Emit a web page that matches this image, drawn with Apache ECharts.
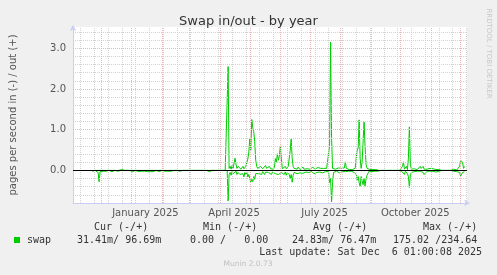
<!DOCTYPE html>
<html><head><meta charset="utf-8">
<script src="https://cdn.jsdelivr.net/npm/echarts@6/dist/echarts.min.js"></script>
<style>html,body{margin:0;padding:0;background:#f0f0f0}#c{width:497px;height:275px}</style>
</head><body><div id="c"></div>
<script>
const DAY = 86400000;
const title = 'Swap in/out - by year';
const yAxisName = 'pages per second in (-) / out (+)';
const seriesName = 'swap';
// daily values, first entry = dataStart
const dataStart = '2024-11-22';
const swapOut = [
 0,0,0,0,0,0,0,0,0,0,
 0,0,0,0,0,0,0,0,0,0,
 0,0,0,0,0,0,0,0,0.03,0.04,
 0.02,0,0,0,0,0,0,0,0,0,
 0,0,0,0,0,0,0,0,0,0,
 0,0,0,0,0,0,0,0,0,0,
 0,0,0,0,0,0,0,0,0,0,
 0,0,0,0,0,0,0,0,0,0,
 0,0,0,0,0,0,0,0,0,0,
 0,0,0,0,0,0,0,0,0,0,
 0,0,0,0,0,0,0,0,0,0,
 0,0,0,0,0,0,0,0,0,0,
 0,0,0,0,0,0,0,0,0,0,
 0,0,0,0,0,0,0,0,2.55,0.05,
 0.1,0.03,0.12,0.05,0.08,0.3,0.15,0.05,0.1,0.06,
 0.08,0.03,0.05,0.1,0.04,0.08,0.1,0.2,0.28,0.45,
 0.78,0.5,1.25,1.05,0.95,0.7,0.25,0.1,0.05,0.08,
 0.03,0.1,0.06,0.04,0.02,0.08,0.12,0.05,0.03,0.06,
 0.1,0.04,0.07,0.05,0.03,0.08,0.29,0.2,0.41,0.25,
 0.35,0.6,0.3,0.04,0.05,0.08,0.1,0.04,0.06,0.1,
 0.09,0.49,0.77,0.3,0.1,0.05,0.04,0.06,0.03,0.08,
 0.05,0.02,0.06,0.04,0.08,0.03,0.05,0.07,0.04,0.02,
 0.05,0.03,0.06,0.04,0.08,0.05,0.03,0.06,0.04,0.07,
 0.05,0.03,0.05,0.06,0.04,0.05,0.06,0.04,0.05,0.07,
 0.09,0.6,3.15,0.8,0.05,0.03,0.04,0.03,0.05,0.02,
 0.06,0.03,0.04,0.05,0.02,0.04,0.06,0.21,0.05,0.03,
 0.04,0.02,0.03,0.05,0.02,0.04,0.03,0.05,0.3,0.5,
 0.55,1.24,0.3,0.05,0.2,0.7,1.19,0.6,0.15,0.05,
 0.03,0.04,0.02,0.05,0.03,0.02,0.04,0.03,0.02,0.03,
 0.06,0,0,0,0,0,0,0,0,0,
 0,0,0,0,0,0,0,0,0,0,
 0,0,0,0,0.03,0.1,0.21,0.03,0.05,0.1,
 0.02,0.3,1.07,0.15,0.03,0.02,0.02,0.04,0.02,0.03,
 0.02,0.05,0.03,0.1,0.05,0.08,0.1,0.03,0.02,0.05,
 0.03,0.04,0.02,0.05,0.03,0.02,0.04,0.03,0.05,0.02,
 0.03,0.04,0.02,0.05,0.03,0,0,0,0,0,
 0,0,0,0,0,0,0,0.03,0.03,0.02,
 0.01,0.02,0.03,0.1,0.25,0.25,0.2,0.05,0.0969
];
const swapIn = [
 -0.02,-0.03,-0.02,0,-0.02,-0.03,-0.05,-0.28,-0.03,-0.02,
 -0.03,-0.02,-0.03,0,-0.02,-0.03,-0.02,0,0,-0.02,
 -0.03,-0.02,0,0,-0.02,-0.03,-0.02,0,0,0,
 0,0,0,0,0,0,0,0,0,0,
 -0.02,-0.03,-0.02,-0.03,0,-0.02,-0.02,-0.03,-0.02,0,
 -0.02,-0.03,-0.02,-0.02,0,0,-0.03,-0.02,-0.02,-0.03,
 0,-0.02,-0.03,-0.02,-0.02,0,0,-0.02,-0.03,-0.02,
 -0.02,0,0,-0.03,-0.02,-0.02,-0.03,-0.02,0,0,
 -0.02,-0.03,-0.02,0,-0.02,-0.03,0,0,0,-0.02,
 -0.02,-0.03,0,0,0,0,0,0,0,0,
 0,0,0,0,0,0,0,0,0,0,
 0,0,0,0,0,0,0,0,-0.02,-0.03,
 -0.02,-0.02,0,0,0,0,0,0,0,0,
 0,0,0,0,0,0,0,0,-0.75,-0.1,
 -0.05,-0.12,-0.03,-0.08,-0.04,-0.1,-0.02,-0.1,-0.05,-0.03,
 -0.1,-0.06,-0.12,-0.08,-0.16,-0.05,-0.1,-0.05,-0.16,-0.1,
 -0.2,-0.29,-0.22,-0.28,-0.15,-0.22,-0.08,-0.05,-0.04,-0.08,
 -0.12,-0.05,-0.1,-0.03,-0.06,-0.1,-0.04,-0.02,-0.08,-0.05,
 -0.03,-0.07,-0.1,-0.04,-0.06,-0.05,-0.08,-0.12,-0.05,-0.1,
 -0.08,-0.12,-0.05,-0.03,-0.06,-0.1,-0.04,-0.12,-0.05,-0.08,
 -0.1,-0.2,-0.1,-0.29,-0.12,-0.05,-0.05,-0.03,-0.08,-0.04,
 -0.1,-0.06,-0.03,-0.05,-0.07,-0.04,-0.06,-0.04,-0.03,-0.07,
 -0.05,-0.04,-0.06,-0.03,-0.05,-0.08,-0.04,-0.06,-0.05,-0.03,
 -0.07,-0.04,-0.05,-0.03,-0.06,-0.04,-0.05,-0.03,-0.06,-0.04,
 -0.03,-0.3,-0.2,-0.77,-0.3,-0.05,-0.03,-0.05,-0.02,-0.04,
 -0.03,-0.06,-0.02,-0.04,-0.03,-0.05,-0.02,-0.03,-0.06,-0.04,
 -0.02,-0.05,-0.03,-0.02,-0.04,-0.03,-0.05,-0.02,-0.1,-0.24,
 -0.15,-0.3,-0.39,-0.15,-0.25,-0.35,-0.2,-0.39,-0.2,-0.12,
 -0.1,-0.02,-0.04,-0.02,-0.03,-0.02,-0.01,-0.02,-0.03,-0.01,
 -0.02,0,0,0,0,0,0,0,0,0,
 0,0,0,0,0,0,0,0,0,0,
 0,0,0,0,-0.02,-0.03,-0.05,-0.1,-0.02,-0.05,
 -0.08,-0.15,-0.42,-0.1,-0.05,-0.03,-0.02,-0.03,-0.02,-0.04,
 -0.02,-0.02,-0.03,-0.02,-0.03,-0.04,-0.05,-0.1,-0.1,-0.06,
 -0.02,-0.03,-0.05,-0.02,-0.03,-0.04,-0.02,-0.03,-0.02,-0.04,
 -0.02,-0.03,-0.02,-0.02,-0.03,0,0,0,0,0,
 0,0,0,0,0,0,0,-0.02,-0.01,-0.02,
 -0.03,-0.01,-0.02,-0.05,-0.14,-0.1,-0.05,-0.02,-0.0314
];
// axis extents and grid
const xStart = '2024-11-02T12:00:00Z';
const xDays = 400;
const yMin = -0.8, yMax = 3.52;
const monthStarts = ['2024-12-01','2025-01-01','2025-02-01','2025-03-01','2025-04-01','2025-05-01','2025-06-01','2025-07-01','2025-08-01','2025-09-01','2025-10-01','2025-11-01','2025-12-01'];
const weekGridStart = '2024-11-10', weekGridStepDays = 14, weekGridCount = 29;
const xLabelDates = ['2025-01-15','2025-04-15','2025-07-16','2025-10-16'];
const xLabelTexts = ['January 2025','April 2025','July 2025','October 2025'];
const yMinorLines = [-0.6,-0.4,-0.2,0.2,0.4,0.6,0.8,1.2,1.4,1.6,1.8,2.2,2.4,2.6,2.8,3.2,3.4];
const yMajorLines = [1,2,3];
const legendHeaders = ['Cur (-/+)','Min (-/+)','Avg (-/+)','Max (-/+)'];
const legendValues = ['31.41m/ 96.69m','0.00 /   0.00','24.83m/ 76.47m','175.02 /234.64'];
const lastUpdate = 'Last update: Sat Dec  6 01:00:08 2025';
const credit = 'Munin 2.0.73';
const sideText = 'RRDTOOL / TOBI OETIKER';

const t = s => Date.parse(s.length === 10 ? s + 'T00:00:00Z' : s);
const d0 = t(dataStart);
const outData = swapOut.map((v, i) => [d0 + i * DAY, v]);
const inData = swapIn.map((v, i) => [d0 + i * DAY, v]);
const xMin = t(xStart), xMax = xMin + xDays * DAY;
const weekLines = [];
for (let k = 0; k < weekGridCount; k++) weekLines.push(t(weekGridStart) + k * weekGridStepDays * DAY);
const labelVals = xLabelDates.map(t);

const GREEN = '#00cc00', AXIS = '#c8cef5', MINOR = '#d2d2d2', MAJOR = '#f0b4b4';
const mono = '10px "DejaVu Sans Mono"';
const hdrX = [94, 203, 313, 423], valX = [77, 190, 292, 393];
const graphic = [
  {type:'rect', shape:{x:14,y:237,width:6,height:6}, style:{fill:GREEN}},
  {type:'text', x:27, y:240, style:{text:seriesName, font:mono, fill:'#333', verticalAlign:'middle'}},
  {type:'text', x:482, y:252.5, style:{text:lastUpdate, font:mono, fill:'#333', align:'right', verticalAlign:'middle'}},
  {type:'text', x:248, y:264, style:{text:credit, font:'7.5px "DejaVu Sans"', fill:'#c0c0c0', align:'center', verticalAlign:'middle'}},
  {type:'text', x:488.5, y:53.5, rotation:-Math.PI/2, style:{text:sideText, font:'7px "DejaVu Sans"', fill:'#c8c8c8', align:'center', verticalAlign:'middle'}}
];
legendHeaders.forEach((h, i) => graphic.push({type:'text', x:hdrX[i], y:227.5, style:{text:h, font:mono, fill:'#333', verticalAlign:'middle'}}));
legendValues.forEach((h, i) => graphic.push({type:'text', x:valX[i], y:240, style:{text:h, font:mono, fill:'#333', verticalAlign:'middle'}}));

const gridLine = (color) => ({color, width:1, type:[1,1]});
const chart = echarts.init(document.getElementById('c'), null, {renderer:'canvas'});
chart.setOption({
  animation:false,
  backgroundColor:'#f0f0f0',
  title:{text:title, left:'center', top:10, textStyle:{fontFamily:'DejaVu Sans', fontSize:13, fontWeight:'normal', color:'#333'}},
  grid:{left:67, right:30, top:27, bottom:72, show:true, backgroundColor:'#ffffff', borderWidth:0},
  xAxis:{type:'value', min:xMin, max:xMax,
    axisLine:{show:true, onZero:false, lineStyle:{color:AXIS, width:1}, symbol:['none','arrow'], symbolSize:[5,6], symbolOffset:[0,3]},
    axisTick:{show:false}, splitLine:{show:false},
    axisLabel:{customValues:labelVals, formatter:(v)=>{const i=labelVals.indexOf(v);return i>=0?xLabelTexts[i]:'';}, color:'#555', fontFamily:'DejaVu Sans', fontSize:10, margin:5, hideOverlap:false}
  },
  yAxis:{type:'value', min:yMin, max:yMax, interval:0.2,
    name:yAxisName, nameLocation:'middle', nameRotate:90, nameGap:55,
    nameTextStyle:{color:'#555', fontFamily:'DejaVu Sans', fontSize:10},
    axisLine:{show:true, onZero:false, lineStyle:{color:AXIS, width:1}, symbol:['none','arrow'], symbolSize:[5,6], symbolOffset:[0,2]},
    axisTick:{show:false}, splitLine:{show:false},
    axisLabel:{formatter:(v)=>(v>=0 && Math.abs(v-Math.round(v))<1e-6)?v.toFixed(1):'', color:'#555', fontFamily:'DejaVu Sans', fontSize:10, margin:7, showMinLabel:true, showMaxLabel:true}
  },
  series:[
    {type:'line', data:[], z:1, silent:true,
      markLine:{silent:true, symbol:'none', label:{show:false}, animation:false,
        data:[
          ...weekLines.map(v=>({xAxis:v, lineStyle:gridLine(MINOR)})),
          ...yMinorLines.map(v=>({yAxis:v, lineStyle:gridLine(MINOR)})),
          ...monthStarts.map(s=>({xAxis:t(s), lineStyle:gridLine(MAJOR)})),
          ...yMajorLines.map(v=>({yAxis:v, lineStyle:gridLine(MAJOR)}))
        ]}},
    {name:seriesName, type:'line', data:inData, showSymbol:false, symbol:'none', z:3, lineStyle:{color:GREEN, width:1}, itemStyle:{color:GREEN}},
    {name:seriesName, type:'line', data:outData, showSymbol:false, symbol:'none', z:3, lineStyle:{color:GREEN, width:1}, itemStyle:{color:GREEN},
      markLine:{silent:true, symbol:'none', label:{show:false}, z:6, data:[{yAxis:0, lineStyle:{color:'#000', width:1, type:'solid'}}]}}
  ],
  graphic
});
</script></body></html>
